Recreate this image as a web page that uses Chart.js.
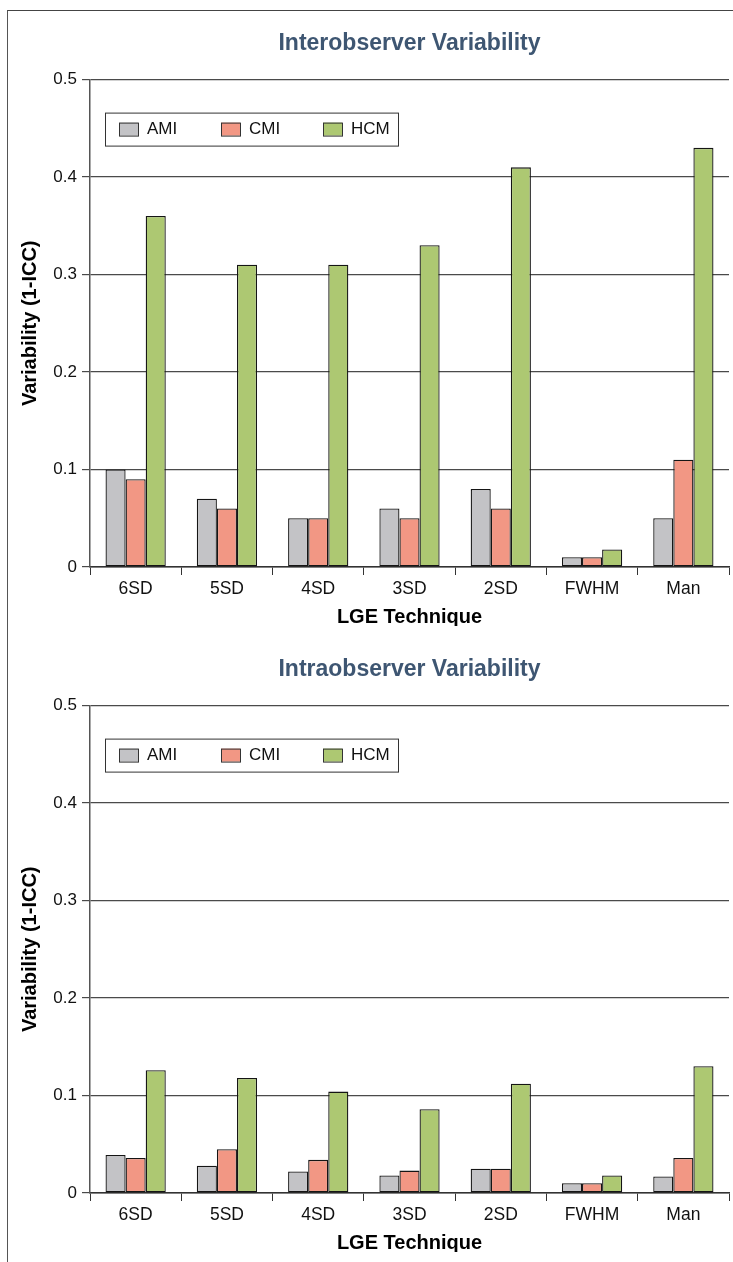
<!DOCTYPE html>
<html>
<head>
<meta charset="utf-8">
<script src="https://cdn.jsdelivr.net/npm/chart.js@4/dist/chart.umd.min.js"></script>
<style>
  body { margin: 0; background: #fff; }
  #page { position: relative; width: 733px; height: 1262px; overflow: hidden; }
  #frame { position: absolute; left: 7px; top: 10px; width: 800px; height: 1300px;
           border-left: 1.5px solid #555; border-top: 1.5px solid #444; }
  .box { position: absolute; left: 0; width: 733px; height: 626px; }
</style>
</head>
<body>
<div id="page">
  <div id="frame"></div>
  <div class="box" style="top:0"><canvas id="interChart" width="733" height="626"></canvas></div>
  <div class="box" style="top:626px"><canvas id="intraChart" width="733" height="626"></canvas></div>
</div>
<script>
const categories = ['6SD', '5SD', '4SD', '3SD', '2SD', 'FWHM', 'Man'];
const seriesNames = ['AMI', 'CMI', 'HCM'];
const yTickLabels = ['0', '0.1', '0.2', '0.3', '0.4', '0.5'];

// Interobserver
const interAMI = [0.10, 0.07, 0.05, 0.06, 0.08, 0.01, 0.05];
const interCMI = [0.09, 0.06, 0.05, 0.05, 0.06, 0.01, 0.11];
const interHCM = [0.36, 0.31, 0.31, 0.33, 0.41, 0.018, 0.43];

// Intraobserver
const intraAMI = [0.039, 0.028, 0.022, 0.018, 0.025, 0.010, 0.017];
const intraCMI = [0.036, 0.045, 0.034, 0.023, 0.025, 0.010, 0.036];
const intraHCM = [0.126, 0.118, 0.104, 0.086, 0.112, 0.018, 0.130];

const colors = ['#c3c3c6', '#f29784', '#adc872'];
const FONT = '"Liberation Sans", Arial, Helvetica, sans-serif';

// legend drawn inside the plot, with a frame round it
const boxedLegend = {
    id: 'boxedLegend',
    afterDraw(chart) {
        const ctx = chart.ctx;
        const area = chart.chartArea;
        const x = area.left + 15, y = area.top + 33;
        ctx.save();
        ctx.fillStyle = '#fff';
        ctx.fillRect(x, y, 293, 33);
        ctx.strokeStyle = '#333';
        ctx.lineWidth = 1;
        ctx.strokeRect(x + 0.5, y + 0.5, 293, 33);
        ctx.font = '17px ' + FONT;
        ctx.textBaseline = 'middle';
        chart.data.datasets.forEach(function(ds, i) {
            const sx = x + 14 + i * 102;
            ctx.fillStyle = ds.backgroundColor;
            ctx.fillRect(sx, y + 10, 19, 13);
            ctx.strokeStyle = '#333';
            ctx.strokeRect(sx + 0.5, y + 10.5, 19, 13);
            ctx.fillStyle = '#111';
            ctx.fillText(ds.label, sx + 28, y + 17);
        });
        ctx.restore();
    }
};

function makeChart(id, title, values) {
    new Chart(document.getElementById(id), {
        type: 'bar',
        data: {
            labels: categories,
            datasets: values.map(function(v, i) {
                return {
                    label: seriesNames[i],
                    data: v,
                    backgroundColor: colors[i],
                    borderColor: '#151515',
                    borderWidth: 1.3,
                    borderSkipped: false,
                    categoryPercentage: 0.66,
                    barPercentage: 1.0
                };
            })
        },
        options: {
            responsive: false,
            animation: false,
            layout: { padding: { left: 0, right: 4, top: 0, bottom: 0 } },
            plugins: {
                legend: { display: false },
                tooltip: { enabled: false },
                title: {
                    display: true,
                    fullSize: false,
                    text: title,
                    color: '#3e5672',
                    font: { family: FONT, size: 23, weight: 'bold', lineHeight: 1.2 },
                    padding: { top: 30, bottom: 22 }
                }
            },
            scales: {
                x: {
                    afterFit: function(scale) { scale.height = 59; },
                    grid: { drawOnChartArea: false, drawTicks: true, tickLength: 8, color: '#333', offset: true },
                    border: { display: true, color: '#333', width: 1.5 },
                    ticks: { color: '#111', font: { family: FONT, size: 17.5 }, padding: 4 },
                    title: {
                        display: true,
                        text: 'LGE Technique',
                        color: '#000',
                        font: { family: FONT, size: 20, weight: 'bold', lineHeight: 0.9 },
                        padding: { top: 0, bottom: 0 }
                    }
                },
                y: {
                    min: 0,
                    max: 0.5,
                    afterFit: function(scale) { scale.width = 90; },
                    grid: { color: '#4a4a4a', lineWidth: 1.2, tickLength: 8 },
                    border: { display: true, color: '#555', width: 1.5 },
                    ticks: {
                        stepSize: 0.1,
                        padding: 5,
                        color: '#111',
                        font: { family: FONT, size: 17 },
                        callback: function(value, index) { return yTickLabels[index]; }
                    },
                    title: {
                        display: true,
                        text: 'Variability (1-ICC)',
                        color: '#000',
                        font: { family: FONT, size: 20, weight: 'bold', lineHeight: 1.2 },
                        padding: { top: 18, bottom: 0 }
                    }
                }
            }
        },
        plugins: [boxedLegend]
    });
}

makeChart('interChart', 'Interobserver Variability', [interAMI, interCMI, interHCM]);
makeChart('intraChart', 'Intraobserver Variability', [intraAMI, intraCMI, intraHCM]);
</script>
</body>
</html>
